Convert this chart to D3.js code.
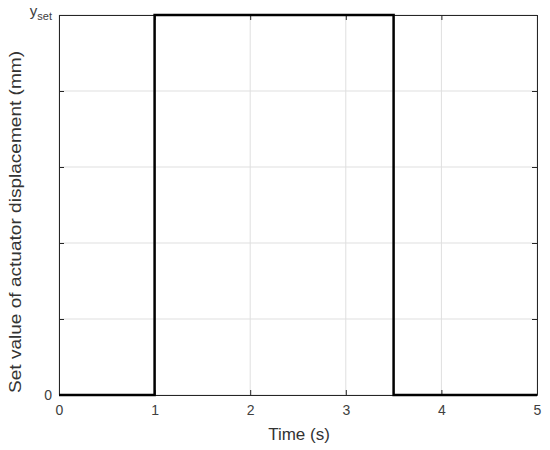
<!DOCTYPE html>
<html>
<head>
<meta charset="utf-8">
<script src="https://cdn.jsdelivr.net/npm/d3@7"></script>
<style>
  body { margin: 0; background: #fff; }
  svg text { font-family: "Liberation Sans", Arial, sans-serif; fill: #333; }
</style>
</head>
<body>
<svg id="main-svg" width="550" height="450"></svg>
<script>
// step signal data
var timeVals = [0, 1, 1, 3.5, 3.5, 5];
var setVals  = [0, 0, 1, 1, 0, 0];
var xTicks = [0, 1, 2, 3, 4, 5];
var yTicks = [0, 0.2, 0.4, 0.6, 0.8, 1];
var yTickLabels = {0: "0", 1: "yset"};

var svg = d3.select("#main-svg");
var margin = {left: 59, top: 15, right: 13, bottom: 55};
var w = 550 - margin.left - margin.right;
var h = 450 - margin.top - margin.bottom;

var x = d3.scaleLinear().domain([0, 5]).range([0, w]);
var y = d3.scaleLinear().domain([0, 1]).range([h, 0]);

var g = svg.append("g").attr("transform", "translate(" + margin.left + "," + margin.top + ")");

// grid
g.append("g").selectAll("line").data(xTicks).enter().append("line")
  .attr("x1", function(d){ return x(d); }).attr("x2", function(d){ return x(d); })
  .attr("y1", 0).attr("y2", h)
  .style("stroke", "#dfdfdf").style("stroke-width", 1);
g.append("g").selectAll("line").data(yTicks).enter().append("line")
  .attr("y1", function(d){ return y(d); }).attr("y2", function(d){ return y(d); })
  .attr("x1", 0).attr("x2", w)
  .style("stroke", "#dfdfdf").style("stroke-width", 1);

// axes (ticks inward)
var xAxis = g.append("g").attr("transform", "translate(0," + h + ")")
  .call(d3.axisBottom(x).tickValues(xTicks).tickFormat(d3.format("d")).tickSizeInner(-5).tickSizeOuter(0).tickPadding(10));
var xAxisTop = g.append("g")
  .call(d3.axisTop(x).tickValues(xTicks).tickFormat("").tickSizeInner(-5).tickSizeOuter(0));
var yAxis = g.append("g")
  .call(d3.axisLeft(y).tickValues(yTicks).tickFormat("").tickSizeInner(-5).tickSizeOuter(0));
var yAxisRight = g.append("g").attr("transform", "translate(" + w + ",0)")
  .call(d3.axisRight(y).tickValues(yTicks).tickFormat("").tickSizeInner(-5).tickSizeOuter(0));

[xAxis, xAxisTop, yAxis, yAxisRight].forEach(function(a){
  a.selectAll("path, line").style("stroke", "#262626").style("stroke-width", 1);
  a.selectAll("text").style("font-size", "14px").style("fill", "#404040");
});

// y tick labels
yTicks.forEach(function(d){
  if (yTickLabels[d] === undefined) return;
  var t = g.append("text").attr("x", -7).attr("y", y(d) + 5)
    .attr("text-anchor", "end").style("font-size", "14px").style("fill", "#404040");
  if (yTickLabels[d] === "yset") {
    t.append("tspan").style("font-size", "15px").text("y");
    t.append("tspan").attr("dy", 4).style("font-size", "11px").text("set");
    t.attr("y", y(d) + 1);
  } else {
    t.text(yTickLabels[d]);
  }
});

// signal
var line = d3.line().x(function(d){ return x(d[0]); }).y(function(d){ return y(d[1]); });
g.append("path").datum(d3.zip(timeVals, setVals))
  .attr("d", line)
  .style("fill", "none").style("stroke", "#000").style("stroke-width", 2.5);

// labels
svg.append("text").attr("x", margin.left + w / 2 + 1).attr("y", 440)
  .attr("text-anchor", "middle").style("font-size", "17px").text("Time (s)");
svg.append("text")
  .attr("transform", "translate(21,222) rotate(-90)")
  .attr("text-anchor", "middle").style("font-size", "17px")
  .attr("textLength", 342).attr("lengthAdjust", "spacingAndGlyphs")
  .text("Set value of actuator displacement (mm)");
</script>
</body>
</html>
